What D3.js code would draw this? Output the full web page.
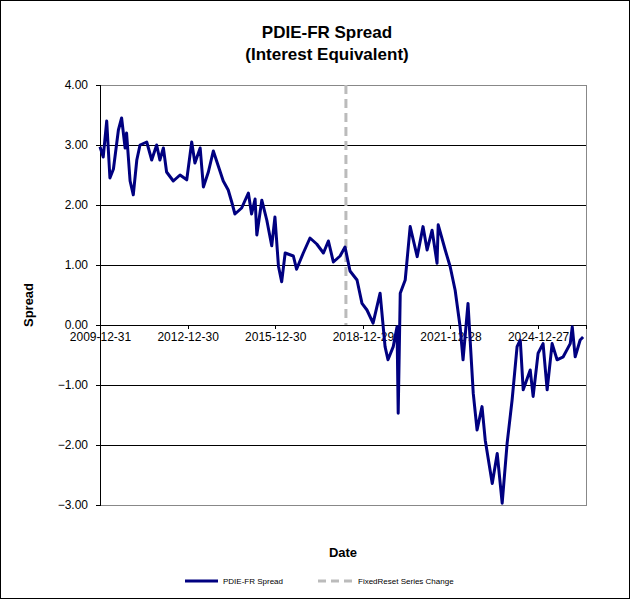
<!DOCTYPE html>
<html><head><meta charset="utf-8">
<script src="https://cdn.jsdelivr.net/npm/d3@7"></script>
<style>body{margin:0;background:#fff}text{font-family:Arial,"Liberation Sans",sans-serif}</style>
</head><body>
<svg id="c" width="630" height="599"></svg>
<script>
// decimal years
const years = [2010.00,2010.11,2010.23,2010.34,2010.46,2010.63,2010.74,2010.86,2010.91,2011.03,2011.14,2011.26,2011.37,2011.60,2011.77,2011.94,2012.05,2012.17,2012.28,2012.51,2012.74,2012.97,2013.14,2013.25,2013.43,2013.54,2013.71,2013.88,2014.05,2014.22,2014.39,2014.51,2014.62,2014.85,2015.08,2015.19,2015.31,2015.37,2015.54,2015.71,2015.88,2015.99,2016.11,2016.22,2016.34,2016.62,2016.73,2016.96,2017.19,2017.42,2017.65,2017.82,2017.99,2018.22,2018.39,2018.56,2018.80,2018.97,2019.14,2019.35,2019.59,2019.76,2019.86,2020.04,2020.17,2020.21,2020.28,2020.45,2020.62,2020.86,2021.06,2021.20,2021.37,2021.54,2021.58,2021.82,2021.99,2022.16,2022.33,2022.43,2022.60,2022.78,2022.91,2023.08,2023.19,2023.43,2023.60,2023.77,2023.94,2024.11,2024.28,2024.39,2024.49,2024.73,2024.83,2025.00,2025.17,2025.31,2025.48,2025.65,2025.86,2026.10,2026.17,2026.27,2026.44,2026.54];
const spread = [2.97,2.8,3.4,2.45,2.6,3.25,3.45,2.95,3.2,2.4,2.17,2.75,3.0,3.05,2.75,3.0,2.75,2.95,2.55,2.4,2.5,2.42,3.05,2.7,2.95,2.3,2.55,2.9,2.65,2.4,2.25,2.05,1.85,1.95,2.2,1.85,2.1,1.5,2.08,1.75,1.32,1.8,0.98,0.72,1.2,1.15,0.93,1.2,1.45,1.35,1.2,1.4,1.05,1.15,1.3,0.9,0.75,0.36,0.25,0.03,0.53,-0.36,-0.58,-0.36,-0.03,-1.47,0.53,0.75,1.64,1.14,1.64,1.25,1.58,1.03,1.67,1.25,0.97,0.58,-0.03,-0.58,0.36,-1.14,-1.75,-1.36,-1.92,-2.64,-2.14,-2.97,-1.97,-1.25,-0.36,-0.25,-1.08,-0.75,-1.19,-0.47,-0.31,-1.08,-0.31,-0.58,-0.53,-0.31,-0.03,-0.53,-0.25,-0.2];
const xTickYears = [2010, 2013, 2016, 2019, 2022, 2025];
const xTickLabels = ["2009-12-31","2012-12-30","2015-12-30","2018-12-29","2021-12-28","2024-12-27"];
const yTicks = [4,3,2,1,0,-1,-2,-3];
const seriesChangeYear = 2018.42;

const svg = d3.select('#c');
const M = {left:100, right:586, top:85, bottom:505};

svg.append('rect').attr('x',0.5).attr('y',0.5).attr('width',629).attr('height',598)
  .attr('fill','#fff').attr('stroke','#000');

const x = d3.scaleLinear().domain([2010, 2026.64]).range([M.left, M.right]);
const y = d3.scaleLinear().domain([-3, 4]).range([M.bottom, M.top]);

// gridlines
svg.append('g').attr('shape-rendering','crispEdges')
  .selectAll('line').data(yTicks.filter(d => d > -3 && d < 4)).join('line')
  .attr('x1',M.left).attr('x2',M.right).attr('y1',d=>y(d)).attr('y2',d=>y(d))
  .attr('stroke','#000').attr('stroke-width',1);

// plot border
svg.append('rect').attr('x',M.left).attr('y',M.top).attr('width',M.right-M.left).attr('height',M.bottom-M.top)
  .attr('fill','none').attr('stroke','#888').attr('shape-rendering','crispEdges');

// y axis
const yAxis = svg.append('g').attr('transform',`translate(${M.left},0)`).attr('shape-rendering','crispEdges')
  .call(d3.axisLeft(y).tickValues(yTicks).tickFormat(d3.format('.2f')).tickSize(4).tickPadding(8));
yAxis.select('.domain').attr('stroke','#000');
yAxis.selectAll('text').attr('font-size',12).attr('fill','#000');

// x axis on the zero line
const xAxis = svg.append('g').attr('transform',`translate(0,${y(0)})`).attr('shape-rendering','crispEdges')
  .call(d3.axisBottom(x).tickValues(xTickYears).tickFormat((d,i)=>xTickLabels[i]).tickSize(4).tickPadding(3));
xAxis.select('.domain').attr('stroke','#000');
xAxis.selectAll('text').attr('font-size',12).attr('fill','#000');

// series change marker
svg.append('line').attr('x1',x(seriesChangeYear)).attr('x2',x(seriesChangeYear))
  .attr('y1',M.top).attr('y2',y(0))
  .attr('stroke','#bbb').attr('stroke-width',3).attr('stroke-dasharray','9,5');

// series
const data = years.map((d,i)=>({x:d, v:spread[i]}));
svg.append('path').datum(data)
  .attr('d', d3.line().x(d=>x(d.x)).y(d=>y(d.v)))
  .attr('fill','none').attr('stroke','#000080').attr('stroke-width',3).attr('stroke-linejoin','round');

// titles
svg.append('text').attr('x',327).attr('y',38).attr('text-anchor','middle')
  .attr('font-size',17).attr('font-weight','bold').text('PDIE-FR Spread');
svg.append('text').attr('x',327).attr('y',60).attr('text-anchor','middle')
  .attr('font-size',17).attr('font-weight','bold').text('(Interest Equivalent)');
svg.append('text').attr('x',343).attr('y',557).attr('text-anchor','middle')
  .attr('font-size',13).attr('font-weight','bold').text('Date');
svg.append('text').attr('transform','translate(33,305) rotate(-90)').attr('text-anchor','middle')
  .attr('font-size',13).attr('font-weight','bold').text('Spread');

// legend
const lg = svg.append('g').attr('transform','translate(0,581)');
lg.append('line').attr('x1',185).attr('x2',218).attr('stroke','#000080').attr('stroke-width',3);
lg.append('text').attr('x',223).attr('y',3).attr('font-size',8).text('PDIE-FR Spread');
lg.append('line').attr('x1',318).attr('x2',352).attr('stroke','#bbb').attr('stroke-width',3).attr('stroke-dasharray','8,5');
lg.append('text').attr('x',358).attr('y',3).attr('font-size',8).text('FixedReset Series Change');
</script>
</body></html>
